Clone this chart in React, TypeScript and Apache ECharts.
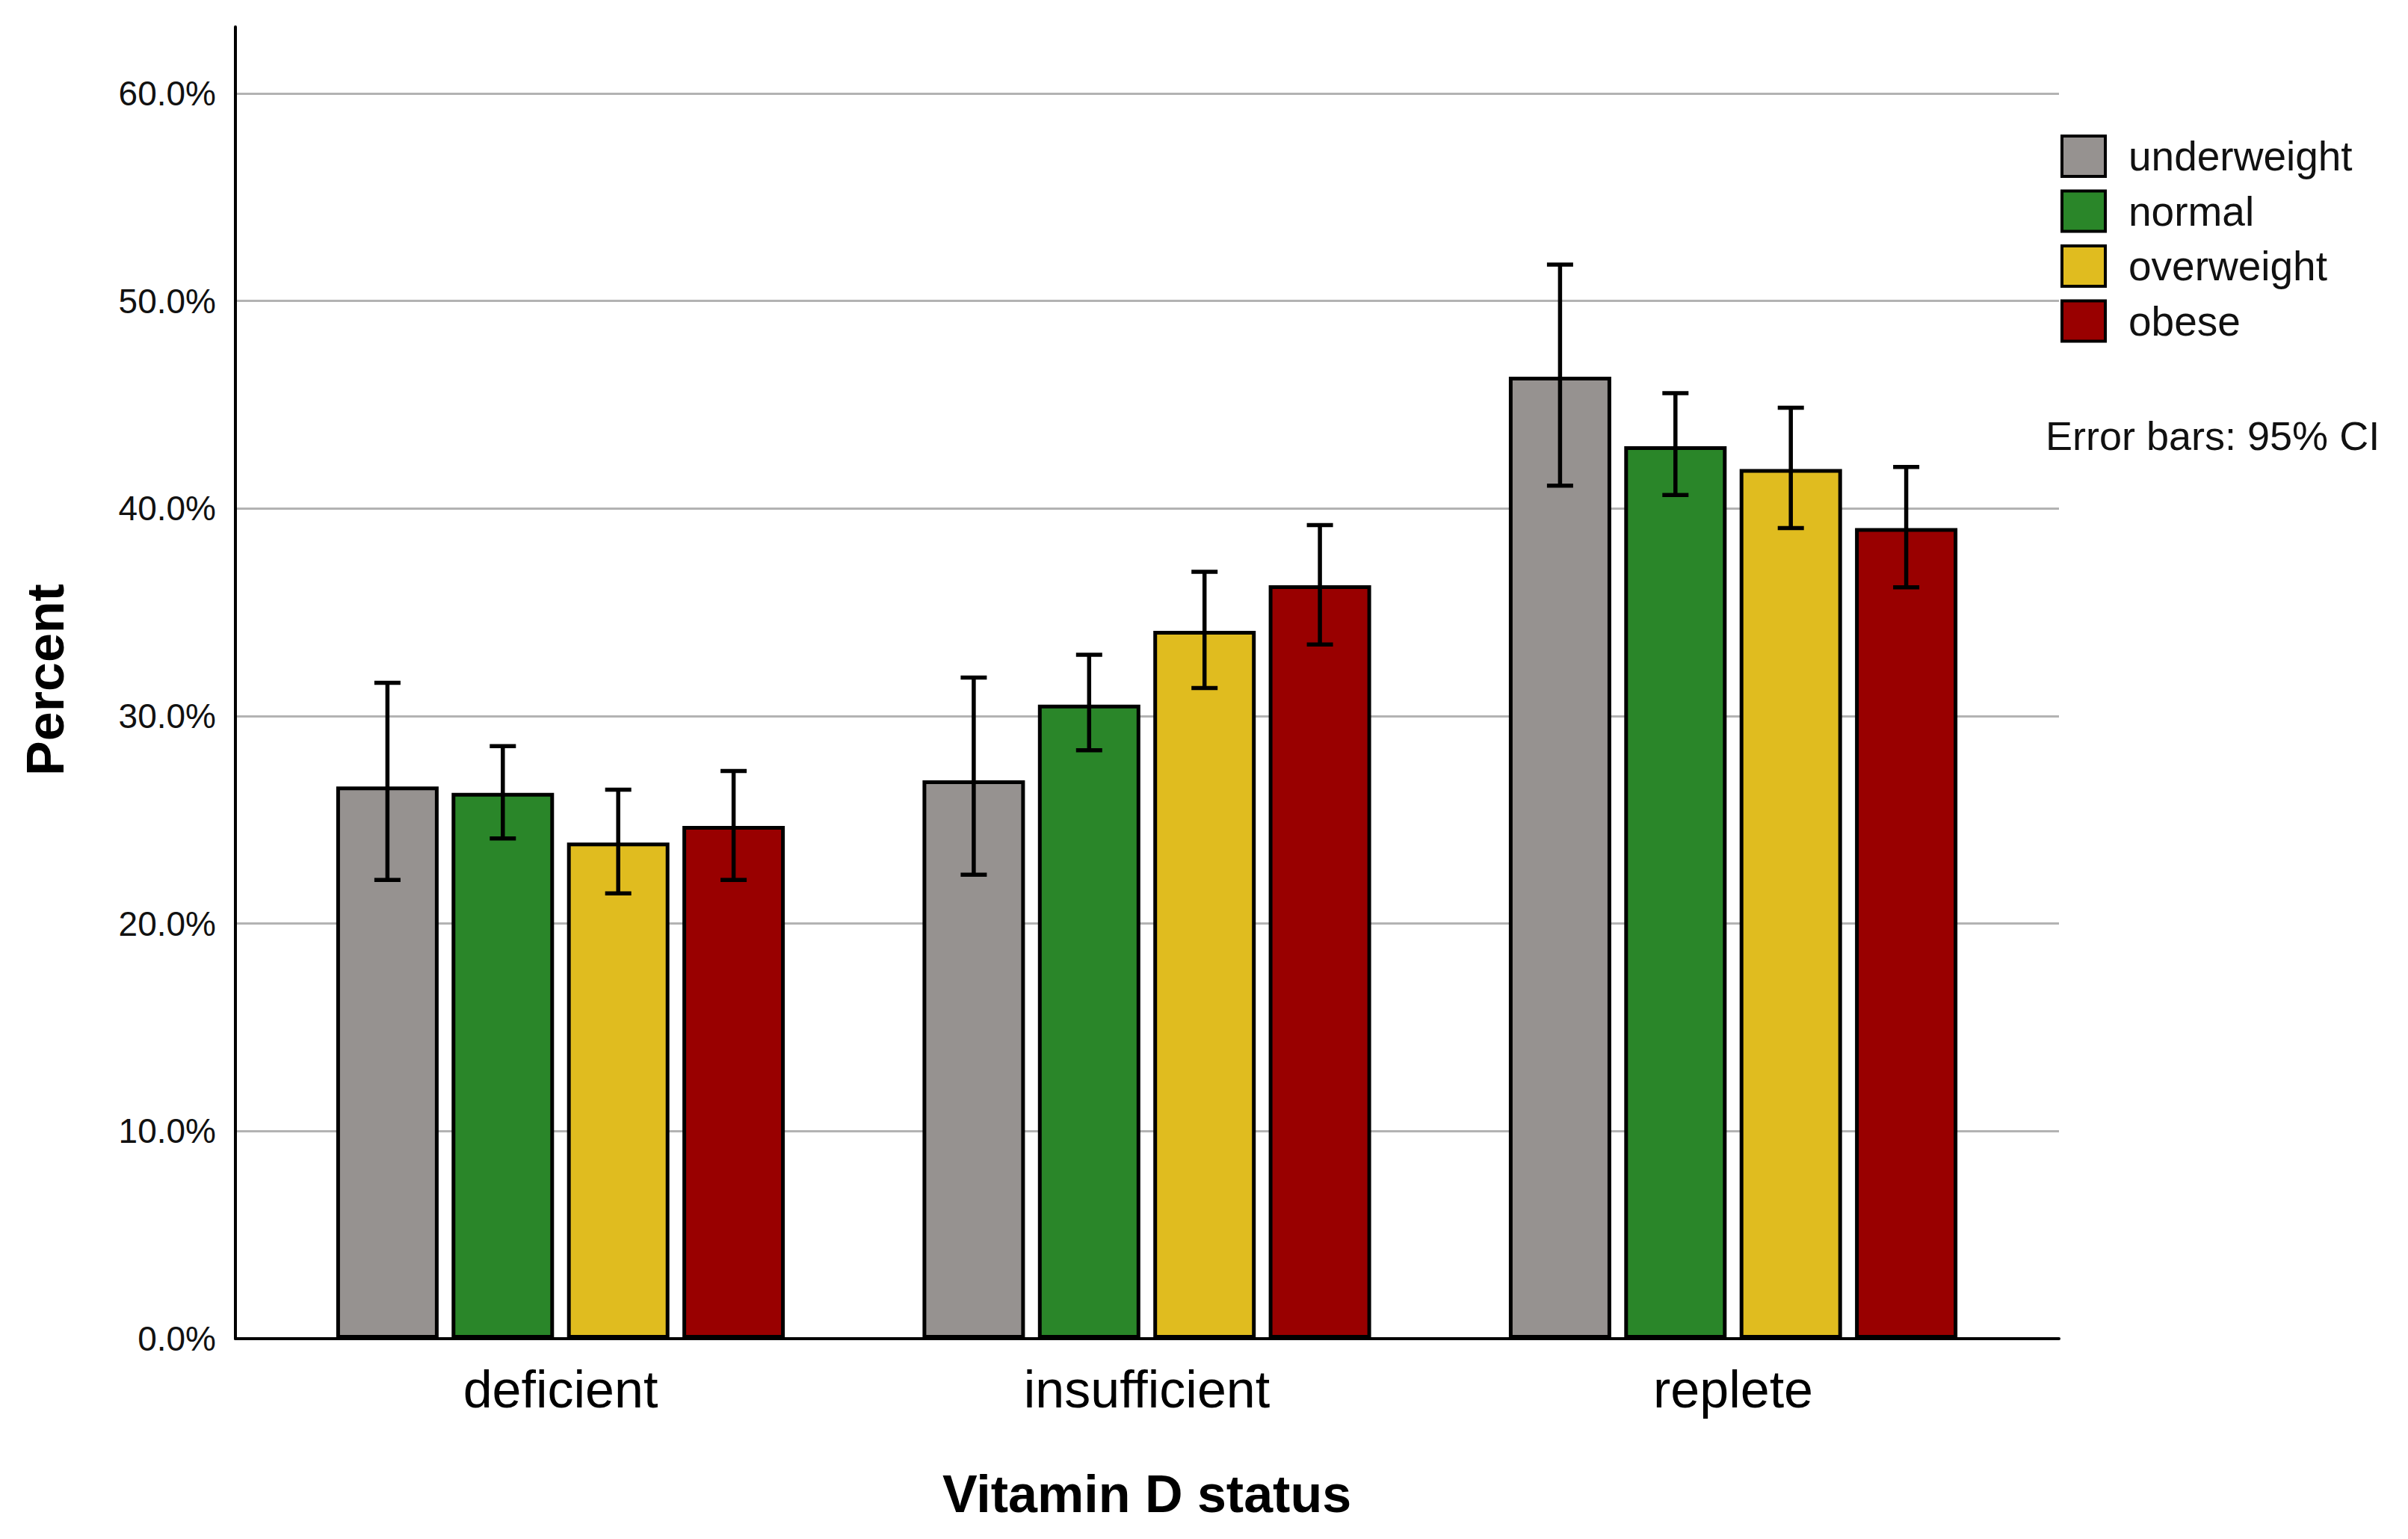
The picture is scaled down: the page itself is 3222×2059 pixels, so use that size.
import React, { useEffect, useRef } from 'react';
import * as echarts from 'echarts';

const categories = ['deficient', 'insufficient', 'replete'];
const groups = ['underweight', 'normal', 'overweight', 'obese'];
const groupColors = ['#969290', '#2a8629', '#e0bc1f', '#990000'];

const underweight = [26.6, 26.9, 46.35];
const normal = [26.3, 30.55, 43.0];
const overweight = [23.9, 34.1, 41.9];
const obese = [24.7, 36.3, 39.05];

const underweightLow = [22.1, 22.35, 41.1];
const underweightHigh = [31.6, 31.85, 51.75];
const normalLow = [24.1, 28.35, 40.65];
const normalHigh = [28.55, 32.95, 45.55];
const overweightLow = [21.45, 31.35, 39.05];
const overweightHigh = [26.45, 36.95, 44.85];
const obeseLow = [22.1, 33.45, 36.2];
const obeseHigh = [27.35, 39.2, 42.0];

const yMin = 0;
const yMax = 63.2;
const yInterval = 10;

const FONT = "'Liberation Sans', Arial, Helvetica, sans-serif";
const BAR_W = 137;
const BAR_GAP_PX = 17.4;

export default function App() {
  const ref = useRef<HTMLDivElement>(null);

  useEffect(() => {
    if (!ref.current) return;
    const chart = echarts.init(ref.current, undefined, { renderer: 'svg' });

    const means = [underweight, normal, overweight, obese];
    const lows = [underweightLow, normalLow, overweightLow, obeseLow];
    const highs = [underweightHigh, normalHigh, overweightHigh, obeseHigh];

    const errData: number[][] = [];
    groups.forEach((_, g) => {
      categories.forEach((__, c) => {
        errData.push([c, g, lows[g][c], highs[g][c]]);
      });
    });

    const barSeries = groups.map((name, g) => ({
      name,
      type: 'bar',
      xAxisIndex: 1,
      yAxisIndex: 1,
      barWidth: BAR_W,
      barGap: (BAR_GAP_PX / BAR_W) * 100 + '%',
      data: means[g],
      itemStyle: { color: groupColors[g], borderColor: '#000', borderWidth: 5 },
      z: 2,
    }));

    const option: any = {
      animation: false,
      backgroundColor: '#fff',
      textStyle: { fontFamily: FONT },
      grid: [
        { left: 315, right: 467, top: 36, bottom: 268 },
        { left: 357.75, right: 510.75, top: 36, bottom: 268 },
      ],
      xAxis: [
        {
          type: 'value',
          gridIndex: 0,
          min: 0,
          max: 1,
          axisLine: { show: true, onZero: false, lineStyle: { color: '#000', width: 4 } },
          axisTick: { show: false },
          axisLabel: { show: false },
          splitLine: { show: false },
        },
        {
          type: 'category',
          gridIndex: 1,
          data: categories,
          axisLine: { show: false },
          axisTick: { show: false },
          axisLabel: { fontSize: 70, color: '#000', margin: 33, lineHeight: 70 },
          name: 'Vitamin D status',
          nameLocation: 'middle',
          nameGap: 173,
          nameTextStyle: { fontSize: 70, fontWeight: 'bold', color: '#000', lineHeight: 70 },
        },
      ],
      yAxis: [
        {
          type: 'value',
          gridIndex: 0,
          min: yMin,
          max: yMax,
          interval: yInterval,
          axisLine: { show: true, lineStyle: { color: '#000', width: 4 } },
          axisTick: { show: false },
          axisLabel: {
            fontSize: 46,
            color: '#111',
            margin: 26,
            padding: [14, 0, 0, 0],
            showMaxLabel: false,
            formatter: (v: number) => v.toFixed(1) + '%',
          },
          splitLine: {
            show: true,
            showMinLine: false,
            showMaxLine: false,
            lineStyle: { color: '#b3b3b3', width: 3 },
          },
          name: 'Percent',
          nameLocation: 'middle',
          nameGap: 219,
          nameTextStyle: {
            fontSize: 70,
            fontWeight: 'bold',
            color: '#000',
            lineHeight: 70,
            padding: [0, 0, 0, 8],
          },
        },
        {
          type: 'value',
          gridIndex: 1,
          min: yMin,
          max: yMax,
          interval: yInterval,
          show: false,
          splitLine: { show: false },
        },
      ],
      legend: {
        data: groups,
        orient: 'vertical',
        left: 2757,
        top: 174,
        padding: 0,
        icon: 'rect',
        itemWidth: 58,
        itemHeight: 54,
        itemGap: 3.5,
        selectedMode: false,
        itemStyle: { borderColor: '#000', borderWidth: 4 },
        textStyle: {
          fontSize: 55,
          color: '#111',
          fontFamily: FONT,
          lineHeight: 54,
          padding: [16, 0, 0, 26],
        },
      },
      graphic: [
        {
          type: 'text',
          left: 2737,
          top: 556,
          style: {
            text: 'Error bars: 95% CI',
            fontSize: 54,
            fontFamily: FONT,
            fill: '#111',
          },
        },
      ],
      series: [
        ...barSeries,
        {
          type: 'custom',
          xAxisIndex: 1,
          yAxisIndex: 1,
          z: 5,
          data: errData,
          encode: { x: 0, y: [2, 3] },
          renderItem: (params: any, api: any) => {
            const c = api.value(0);
            const g = api.value(1);
            const lo = api.value(2);
            const hi = api.value(3);
            const pLo = api.coord([c, lo]);
            const pHi = api.coord([c, hi]);
            const step = BAR_W + BAR_GAP_PX;
            const x = pLo[0] + (g - (groups.length - 1) / 2) * step;
            const cap = 17.5;
            const st = { stroke: '#000', lineWidth: 5.5 };
            return {
              type: 'group',
              children: [
                { type: 'line', shape: { x1: x, y1: pLo[1], x2: x, y2: pHi[1] }, style: st },
                { type: 'line', shape: { x1: x - cap, y1: pHi[1], x2: x + cap, y2: pHi[1] }, style: st },
                { type: 'line', shape: { x1: x - cap, y1: pLo[1], x2: x + cap, y2: pLo[1] }, style: st },
              ],
            };
          },
        },
      ],
    };

    chart.setOption(option);
    return () => chart.dispose();
  }, []);

  return (
    <div
      ref={ref}
      style={{ position: 'fixed', left: 0, top: 0, width: 3222, height: 2059, background: '#fff' }}
    />
  );
}
